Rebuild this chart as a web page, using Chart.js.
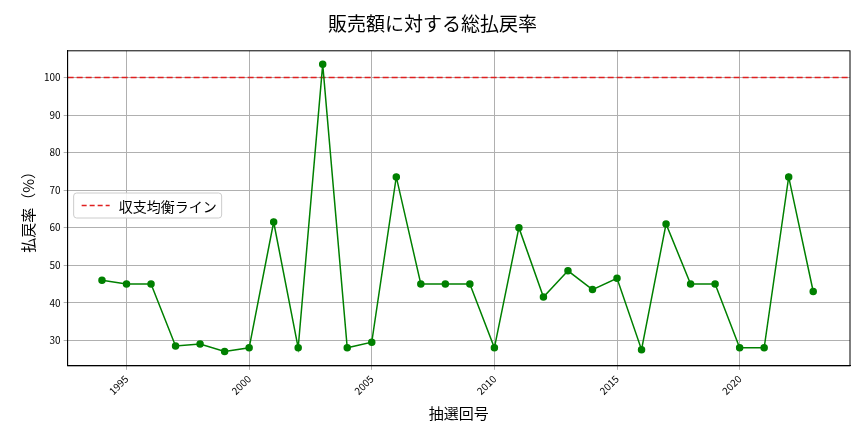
<!DOCTYPE html>
<html><head><meta charset="utf-8">
<script src="https://cdn.jsdelivr.net/npm/chart.js@4/dist/chart.umd.min.js"></script>
<style>body{margin:0;background:#fff}#c{width:864px;height:432px}</style>
</head><body><div id="c"><canvas id="chart"></canvas></div>
<script>
const years = [1994,1995,1996,1997,1998,1999,2000,2001,2002,2003,2004,2005,2006,2007,2008,2009,2010,2011,2012,2013,2014,2015,2016,2017,2018,2019,2020,2021,2022,2023];
const rates = [46,45,45,28.5,29,27,28,61.5,28,103.5,28,29.5,73.5,45,45,45,28,60,41.5,48.5,43.5,46.5,27.5,61,45,45,28,28,73.5,43];
const breakEven = 100;
const xMin = 1992.6, xMax = 2024.5;
const font = "'Noto Sans CJK JP', sans-serif";

// 凡例をグラフ内左側に描き、枠線も引く
const innerLegend = {
  id: 'innerLegend',
  afterDraw(chart) {
    const ctx = chart.ctx, a = chart.chartArea;
    ctx.save();
    ctx.strokeStyle = '#000'; ctx.lineWidth = 1;
    ctx.strokeRect(a.left, a.top, a.right - a.left, a.bottom - a.top);
    const x = a.left + 6, y = 193, w = 148, h = 25;
    ctx.fillStyle = 'rgba(255,255,255,0.85)';
    ctx.strokeStyle = '#ccc';
    ctx.beginPath(); ctx.roundRect(x, y, w, h, 3); ctx.fill(); ctx.stroke();
    ctx.strokeStyle = '#e02020'; ctx.lineWidth = 1.5; ctx.setLineDash([5, 3]);
    ctx.beginPath(); ctx.moveTo(x + 8, y + h / 2); ctx.lineTo(x + 36, y + h / 2); ctx.stroke();
    ctx.setLineDash([]);
    ctx.fillStyle = '#000'; ctx.font = `14px ${font}`; ctx.textBaseline = 'middle';
    ctx.fillText('収支均衡ライン', x + 45, y + h / 2 + 1);
    ctx.restore();
  }
};

new Chart(document.getElementById('chart'), {
  type: 'line',
  data: {
    datasets: [
      { data: years.map((y, i) => ({x: y, y: rates[i]})), borderColor: '#008000', backgroundColor: '#008000',
        borderWidth: 1.5, pointRadius: 3, pointHoverRadius: 3, tension: 0 },
      { data: [{x: xMin, y: breakEven}, {x: xMax, y: breakEven}], borderColor: '#e02020', borderWidth: 1.5,
        borderDash: [6, 3], pointRadius: 0 }
    ]
  },
  options: {
    animation: false, responsive: true, maintainAspectRatio: false,
    layout: { padding: { left: 15, right: 14, top: 4, bottom: 6 } },
    plugins: {
      legend: { display: false }, tooltip: { enabled: false },
      title: { display: true, text: '販売額に対する総払戻率', color: '#000',
        font: { family: font, size: 19, weight: 'normal' }, padding: { top: 8, bottom: 16 } }
    },
    scales: {
      x: { type: 'linear', min: xMin, max: xMax,
        afterBuildTicks: s => { s.ticks = [1995, 2000, 2005, 2010, 2015, 2020].map(v => ({value: v})); },
        ticks: { color: '#000', font: { family: font, size: 10 }, maxRotation: 45, minRotation: 45, callback: v => String(v) },
        grid: { color: '#b0b0b0', drawTicks: true, tickLength: 4 },
        border: { color: '#000' },
        title: { display: true, text: '抽選回号', color: '#000', font: { family: font, size: 15 } } },
      y: { min: 23.2, max: 107.1,
        afterBuildTicks: s => { s.ticks = [30,40,50,60,70,80,90,100].map(v => ({value: v})); },
        ticks: { color: '#000', font: { family: font, size: 10 } },
        grid: { color: '#b0b0b0', tickLength: 4 },
        border: { color: '#000' },
        title: { display: true, text: '払戻率（%）', color: '#000', font: { family: font, size: 15 } } }
    }
  },
  plugins: [innerLegend]
});
</script></body></html>
